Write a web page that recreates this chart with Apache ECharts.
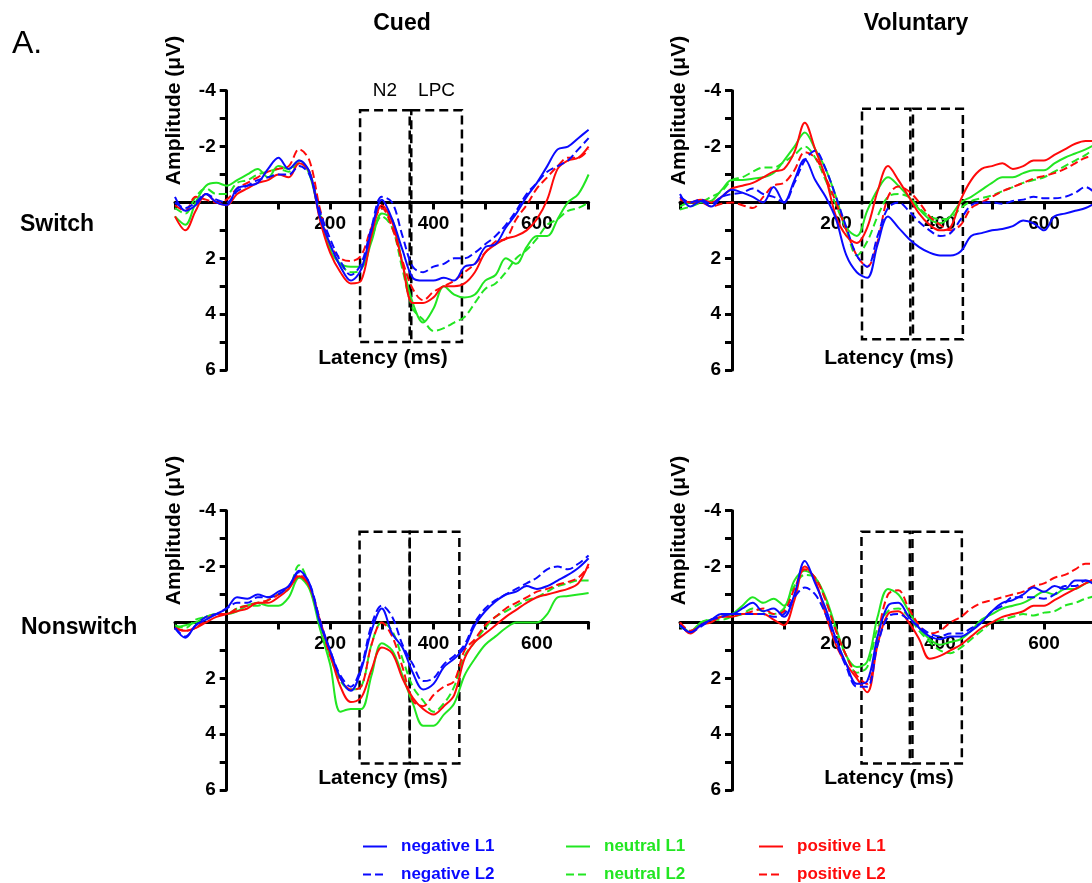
<!DOCTYPE html>
<html>
<head>
<meta charset="utf-8">
<title>ERP waveforms</title>
<script src="https://cdn.jsdelivr.net/npm/echarts@6/dist/echarts.min.js"></script>
<style>
  html, body { margin: 0; padding: 0; background: #fff; }
  #chart { width: 1092px; height: 883px; }
</style>
</head>
<body>
<div id="chart"></div>
<script>
// latency (ms), sampled every 20 ms
const latency = [-100, -80, -60, -40, -20, 0, 20, 40, 60, 80, 100, 120, 140, 160, 180, 200, 220, 240, 260, 280,
  300, 320, 340, 360, 380, 400, 420, 440, 460, 480, 500, 520, 540, 560, 580, 600, 620, 640, 660, 680, 700];

const seriesNames = ['negative L1', 'negative L2', 'neutral L1', 'neutral L2', 'positive L1', 'positive L2'];
const xTickLabels = [200, 400, 600];
const yTickLabels = [-4, -2, 2, 4, 6];
const windowNames = ['N2', 'LPC'];

// amplitude (µV) - Cued / Switch
const cuedSwitchNegL1 = [-0.2, 0.3, 0.1, -0.3, 0.0, 0.1, -0.5, -0.6, -0.7, -1.2, -1.6, -1.2, -1.5, -1.1, 0.5, 1.5, 2.3, 2.8, 2.4, 1.0,
  -0.1, 0.6, 1.7, 2.7, 2.8, 2.8, 2.7, 2.8, 2.3, 2.2, 1.6, 1.5, 0.9, 0.4, -0.2, -0.7, -1.3, -1.9, -2.0, -2.3, -2.6];
const cuedSwitchNegL2 = [0.0, 0.2, 0.0, -0.3, -0.1, 0.0, -0.4, -0.6, -0.8, -0.9, -1.0, -1.0, -1.3, -1.0, 0.3, 1.3, 2.1, 2.6, 2.2, 0.9,
  -0.2, 0.0, 1.2, 2.3, 2.5, 2.3, 2.2, 2.0, 2.0, 1.8, 1.5, 1.2, 0.8, 0.3, -0.3, -0.7, -1.1, -1.3, -1.5, -1.9, -2.3];
const cuedSwitchNeuL1 = [0.5, 0.8, 0.0, -0.6, -0.7, -0.6, -0.8, -1.0, -1.2, -0.9, -1.3, -1.2, -1.5, -1.0, 0.5, 1.7, 2.2, 2.3, 2.3, 1.4,
  0.4, 0.6, 2.2, 3.6, 4.3, 3.8, 3.0, 3.3, 3.4, 3.3, 2.8, 2.6, 2.0, 2.2, 1.6, 1.2, 1.2, 0.6, 0.0, -0.3, -1.0];
const cuedSwitchNeuL2 = [0.2, 0.4, -0.2, -0.5, -0.3, -0.3, -0.7, -0.8, -1.0, -1.1, -1.2, -1.1, -1.4, -1.1, 0.4, 1.6, 2.2, 2.5, 2.4, 1.3,
  0.5, 0.9, 2.4, 3.8, 4.2, 4.6, 4.5, 4.3, 4.1, 3.6, 3.1, 2.9, 2.5, 2.0, 1.7, 1.3, 0.8, 0.6, 0.3, 0.2, 0.0];
const cuedSwitchPosL1 = [0.5, 1.0, 0.3, -0.3, 0.0, 0.1, -0.3, -0.5, -0.7, -0.8, -1.0, -0.9, -1.4, -1.1, 0.6, 1.8, 2.5, 2.9, 2.8, 1.2,
  0.1, 0.7, 2.2, 3.6, 3.6, 3.4, 3.0, 3.0, 2.9, 2.5, 1.8, 1.5, 1.3, 1.2, 1.0, 0.6, -0.1, -1.2, -1.5, -1.6, -2.0];
const cuedSwitchPosL2 = [0.1, 0.3, -0.2, -0.1, 0.0, -0.1, -0.5, -0.7, -0.9, -1.1, -1.2, -1.3, -1.9, -1.5, 0.2, 1.5, 2.0, 2.1, 1.9, 0.9,
  0.2, 0.9, 2.1, 3.1, 3.5, 3.2, 3.0, 2.8, 2.5, 2.2, 1.8, 1.4, 1.3, 0.6, 0.1, -0.5, -0.9, -1.3, -1.6, -1.6, -1.9];

// amplitude (µV) - Voluntary / Switch
const volSwitchNegL1 = [-0.3, 0.15, -0.05, 0.15, -0.2, -0.45, -0.35, -0.2, 0.0, -0.55, 0.0, -0.8, -1.55, -0.8, -0.2, 0.6, 1.9, 2.5, 2.7, 1.5,
  0.5, 0.9, 1.3, 1.6, 1.8, 1.9, 1.9, 1.75, 1.2, 1.1, 1.0, 0.95, 0.85, 0.65, 0.75, 1.0, 0.5, 0.4, 0.3, 0.2, 0.0];
const volSwitchNegL2 = [-0.2, 0.0, -0.1, 0.05, -0.2, -0.3, -0.35, -0.5, -0.3, -0.2, 0.0, -0.7, -1.5, -1.85, -1.2, -0.2, 0.9, 1.9, 2.3, 1.2,
  0.2, 0.0, 0.3, 0.7, 1.0, 1.2, 1.1, 0.6, 0.1, 0.0, 0.0, 0.05, -0.05, -0.1, -0.2, -0.15, -0.15, -0.2, -0.35, -0.55, -0.3];
const volSwitchNeuL1 = [0.15, 0.0, 0.0, -0.05, -0.45, -0.8, -0.8, -0.85, -0.9, -1.05, -1.5, -2.0, -2.5, -1.9, -1.2, -0.2, 0.9, 1.2, 0.3, -0.45,
  -0.9, -0.6, -0.2, 0.25, 0.6, 0.75, 0.5, 0.0, -0.2, -0.45, -0.7, -0.9, -0.9, -1.05, -1.15, -1.15, -1.4, -1.6, -1.75, -1.9, -2.1];
const volSwitchNeuL2 = [0.25, 0.15, 0.0, -0.2, -0.4, -0.8, -0.9, -1.1, -1.25, -1.25, -1.45, -1.7, -2.0, -1.6, -0.8, 0.1, 1.0, 1.9, 1.4, 0.5,
  -0.2, -0.3, -0.2, 0.2, 0.5, 0.6, 0.55, 0.2, -0.05, -0.15, -0.25, -0.4, -0.55, -0.7, -0.8, -0.9, -1.1, -1.3, -1.5, -1.7, -2.0];
const volSwitchPosL1 = [-0.15, 0.0, -0.1, 0.0, -0.2, -0.5, -0.6, -0.7, -0.9, -1.1, -1.2, -1.8, -2.85, -1.9, -0.9, 0.5, 1.2, 1.45, 0.9, -0.4,
  -1.3, -0.8, -0.2, 0.4, 0.8, 1.0, 0.9, -0.1, -0.8, -1.2, -1.3, -1.4, -1.2, -1.3, -1.5, -1.5, -1.7, -1.9, -2.1, -2.2, -2.2];
const volSwitchPosL2 = [-0.1, 0.0, 0.0, 0.15, 0.05, 0.0, 0.1, 0.2, -0.2, -0.6, -0.7, -1.15, -1.8, -1.6, -0.9, 0.0, 1.0, 1.9, 2.3, 1.4,
  -0.2, -0.57, -0.4, 0.0, 0.5, 0.8, 1.0, 0.8, 0.2, 0.0, -0.2, -0.4, -0.55, -0.7, -0.85, -0.95, -1.05, -1.2, -1.4, -1.6, -1.65];

// amplitude (µV) - Cued / Nonswitch
const cuedNonNegL1 = [0.2, 0.55, 0.1, -0.1, -0.3, -0.5, -0.9, -0.85, -1.0, -0.9, -1.1, -1.3, -1.85, -1.4, 0.0, 1.0, 2.0, 2.45, 1.7, 0.3,
  -0.5, 0.4, 0.9, 1.8, 2.4, 2.2, 1.6, 1.3, 0.9, 0.1, -0.4, -0.75, -1.0, -1.1, -1.3, -1.2, -1.3, -1.5, -1.7, -1.95, -2.3];
const cuedNonNegL2 = [0.2, 0.5, 0.1, -0.2, -0.3, -0.5, -0.7, -0.7, -0.9, -0.9, -1.0, -1.3, -1.8, -1.4, -0.1, 1.0, 1.9, 2.3, 1.6, 0.1,
  -0.6, -0.2, 0.8, 1.5, 2.1, 2.0, 1.5, 1.2, 0.8, 0.0, -0.5, -0.8, -1.0, -1.2, -1.4, -1.6, -1.9, -2.0, -1.9, -2.1, -2.4];
const cuedNonNeuL1 = [0.2, 0.1, 0.0, -0.2, -0.3, -0.3, -0.4, -0.6, -0.7, -0.6, -0.6, -0.9, -1.6, -1.2, 0.2, 1.5, 3.2, 3.1, 3.1, 1.9,
  0.75, 1.0, 1.9, 2.9, 3.7, 3.7, 3.3, 2.9, 1.9, 1.3, 0.8, 0.5, 0.2, 0.0, 0.0, 0.0, -0.3, -0.9, -0.95, -1.0, -1.05];
const cuedNonNeuL2 = [0.1, 0.2, -0.1, -0.2, -0.3, -0.3, -0.5, -0.6, -0.6, -0.8, -1.0, -1.2, -2.05, -1.3, 0.0, 1.2, 2.1, 2.4, 2.3, 0.8,
  0.0, 0.3, 1.3, 2.3, 2.8, 3.2, 2.9, 2.3, 1.2, 0.7, 0.2, -0.2, -0.4, -0.6, -0.8, -0.9, -1.1, -1.3, -1.4, -1.5, -1.5];
const cuedNonPosL1 = [0.2, 0.3, 0.2, 0.0, -0.2, -0.3, -0.4, -0.5, -0.7, -0.7, -0.9, -1.2, -1.65, -1.3, -0.1, 1.1, 2.3, 2.85, 2.7, 1.7,
  0.9, 1.1, 2.0, 2.7, 3.1, 3.3, 3.0, 2.6, 1.3, 0.7, 0.4, 0.1, -0.2, -0.45, -0.7, -0.9, -1.0, -1.1, -1.2, -1.4, -2.1];
const cuedNonPosL2 = [0.2, 0.3, 0.2, -0.1, -0.3, -0.3, -0.5, -0.6, -0.7, -0.8, -1.0, -1.3, -1.7, -1.3, -0.1, 1.2, 2.0, 2.4, 2.3, 0.8,
  0.0, 0.5, 1.6, 2.8, 3.0, 2.6, 2.3, 2.1, 1.0, 0.6, 0.1, -0.2, -0.5, -0.7, -0.9, -1.1, -1.2, -1.35, -1.45, -1.6, -2.0];

// amplitude (µV) - Voluntary / Nonswitch
const volNonNegL1 = [0.1, 0.35, 0.1, -0.1, -0.3, -0.3, -0.5, -0.7, -0.4, -0.5, -0.2, -1.0, -2.2, -1.4, -0.5, 0.6, 1.5, 2.2, 2.1, 0.5,
  -0.6, -0.7, -0.2, 0.2, 0.5, 0.6, 0.5, 0.5, 0.3, 0.0, -0.4, -0.7, -0.8, -1.0, -1.25, -1.1, -1.3, -1.2, -1.5, -1.5, -1.3];
const volNonNegL2 = [0.1, 0.35, 0.15, -0.1, -0.2, -0.3, -0.3, -0.3, -0.3, -0.2, -0.3, -0.9, -1.25, -1.0, -0.3, 0.7, 1.6, 2.3, 2.3, 0.8,
  -0.2, -0.3, -0.1, 0.15, 0.4, 0.5, 0.4, 0.4, 0.2, 0.0, -0.4, -0.6, -0.9, -0.9, -0.9, -0.85, -1.0, -1.3, -1.3, -1.5, -1.4];
const volNonNeuL1 = [0.1, 0.35, 0.0, -0.1, -0.2, -0.3, -0.6, -0.9, -0.7, -0.85, -0.6, -1.5, -1.85, -1.6, -0.9, 0.2, 1.2, 1.6, 1.4, -0.2,
  -1.2, -1.0, -0.4, 0.2, 0.6, 0.8, 0.7, 0.6, 0.3, -0.1, -0.3, -0.5, -0.6, -0.7, -0.9, -1.1, -1.0, -1.2, -1.2, -1.4, -1.5];
const volNonNeuL2 = [0.15, 0.3, 0.0, -0.1, -0.1, -0.2, -0.3, -0.5, -0.4, -0.3, -0.5, -1.3, -1.7, -1.6, -0.8, 0.3, 1.2, 1.8, 1.6, 0.2,
  -0.4, -0.5, -0.2, 0.3, 0.7, 1.0, 1.1, 0.9, 0.6, 0.3, 0.0, -0.1, -0.2, -0.3, -0.25, -0.35, -0.4, -0.6, -0.7, -0.85, -0.95];
const volNonPosL1 = [0.0, 0.4, 0.1, 0.0, -0.2, -0.2, -0.3, -0.3, -0.3, -0.1, 0.1, -0.8, -2.0, -1.5, -0.3, 0.8, 1.5, 2.0, 2.5, 0.8,
  -0.3, -0.4, 0.0, 0.6, 1.3, 1.2, 1.0, 0.8, 0.5, 0.2, 0.0, -0.2, -0.3, -0.4, -0.6, -0.6, -0.8, -1.0, -1.2, -1.4, -1.6];
const volNonPosL2 = [0.0, 0.3, 0.1, -0.1, -0.2, -0.3, -0.3, -0.4, -0.5, -0.3, -0.4, -1.2, -1.9, -1.6, -0.8, 0.3, 1.2, 1.9, 2.2, 0.5,
  -1.0, -1.15, -0.5, 0.1, 0.4, 0.3, 0.0, -0.2, -0.5, -0.7, -0.8, -0.9, -1.0, -1.1, -1.3, -1.4, -1.6, -1.7, -1.9, -2.1, -2.1];

// analysis windows (ms) and their vertical extent (µV), as drawn in each panel
const cuedSwitchWindows = [[258, 354], [357, 455]];
const volSwitchWindows = [[250, 343], [348, 444]];
const cuedNonWindows = [[257, 354], [354, 450]];
const volNonWindows = [[249, 342], [347, 442]];
const cuedSwitchWinY = [-3.3, 5.0];
const volSwitchWinY = [-3.35, 4.9];
const cuedNonWinY = [-3.25, 5.05];
const volNonWinY = [-3.25, 5.05];

const X_MIN = -100, X_MAX = 700, Y_MIN = -4, Y_MAX = 6;
const FONT = '"Liberation Sans", Arial, Helvetica, sans-serif';
const BLUE = '#0a0aff';
const GREEN = '#22e622';
const RED = '#ff0a0a';
const seriesColors = [BLUE, BLUE, GREEN, GREEN, RED, RED];
const seriesDash = ['solid', [8, 4], 'solid', [8, 4], 'solid', [8, 4]];
const drawOrder = [3, 2, 5, 4, 1, 0];

const panels = [
  { grid: { left: 175, top: 90.7, width: 413.6, height: 279.3 },
    data: [cuedSwitchNegL1, cuedSwitchNegL2, cuedSwitchNeuL1, cuedSwitchNeuL2, cuedSwitchPosL1, cuedSwitchPosL2],
    windows: cuedSwitchWindows, winY: cuedSwitchWinY, showWinNames: true },
  { grid: { left: 680, top: 90.7, width: 416, height: 279.3 },
    data: [volSwitchNegL1, volSwitchNegL2, volSwitchNeuL1, volSwitchNeuL2, volSwitchPosL1, volSwitchPosL2],
    windows: volSwitchWindows, winY: volSwitchWinY, showWinNames: false },
  { grid: { left: 175, top: 510.7, width: 413.6, height: 279.3 },
    data: [cuedNonNegL1, cuedNonNegL2, cuedNonNeuL1, cuedNonNeuL2, cuedNonPosL1, cuedNonPosL2],
    windows: cuedNonWindows, winY: cuedNonWinY, showWinNames: false },
  { grid: { left: 680, top: 510.7, width: 416, height: 279.3 },
    data: [volNonNegL1, volNonNegL2, volNonNeuL1, volNonNeuL2, volNonPosL1, volNonPosL2],
    windows: volNonWindows, winY: volNonWinY, showWinNames: false }
];

const axisLineStyle = { color: '#000', width: 3 };
const tickFont = { fontSize: 19, fontWeight: 'bold', color: '#000', fontFamily: FONT };

const grids = [], xAxes = [], yAxes = [], series = [];
panels.forEach((p, gi) => {
  const g = p.grid;
  grids.push(Object.assign({ outerBoundsMode: 'none', containLabel: false }, g));
  // the axes cross at (0 ms, 0 µV): shift each axis from the grid edge onto the zero line
  const xOffset = -g.height * (Y_MAX - 0) / (Y_MAX - Y_MIN);
  const yOffset = -g.width * (0 - X_MIN) / (X_MAX - X_MIN);
  xAxes.push({
    type: 'value', gridIndex: gi, min: X_MIN, max: X_MAX, interval: 100, offset: xOffset,
    axisLine: { show: true, onZero: false, lineStyle: axisLineStyle },
    axisTick: { show: true, length: 7, lineStyle: { color: '#000', width: 3 } },
    axisLabel: Object.assign({ show: true, margin: 12, formatter: v => xTickLabels.includes(v) ? String(v) : '' }, tickFont),
    splitLine: { show: false }
  });
  yAxes.push({
    type: 'value', gridIndex: gi, min: Y_MIN, max: Y_MAX, interval: 1, inverse: true, offset: yOffset,
    axisLine: { show: true, onZero: false, lineStyle: axisLineStyle },
    axisTick: { show: true, length: 7, lineStyle: { color: '#000', width: 3 } },
    axisLabel: Object.assign({ show: true, margin: 11, formatter: v => yTickLabels.includes(v) ? String(v) : '' }, tickFont),
    splitLine: { show: false }
  });
  drawOrder.forEach((si, k) => {
    const s = {
      name: seriesNames[si], type: 'line', xAxisIndex: gi, yAxisIndex: gi,
      data: latency.map((t, j) => [t, p.data[si][j]]),
      symbol: 'none', showSymbol: false, smooth: 0.35, animation: false,
      color: seriesColors[si],
      lineStyle: { color: seriesColors[si], width: 2, type: seriesDash[si] }
    };
    if (k === 0) {
      s.markArea = {
        silent: true,
        itemStyle: { color: 'rgba(0,0,0,0)', borderColor: '#000', borderWidth: 2.5, borderType: [9, 5] },
        label: { show: p.showWinNames, position: 'top', distance: 9, formatter: '{b}',
          fontSize: 19, color: '#000', fontFamily: FONT },
        data: p.windows.map((w, wi) => [
          { name: windowNames[wi], xAxis: w[0], yAxis: p.winY[0] },
          { xAxis: w[1], yAxis: p.winY[1] }
        ])
      };
    }
    series.push(s);
  });
});

function label(text, x, y, size, opts) {
  return Object.assign({
    type: 'text', x: x, y: y, silent: true, z: 10,
    style: { text: text, font: (opts && opts.weight || 'bold') + ' ' + size + 'px ' + FONT,
      fill: '#000', align: (opts && opts.align) || 'center', verticalAlign: 'middle' }
  }, opts && opts.rotation ? { rotation: opts.rotation } : {});
}

const graphics = [
  label('A.', 12, 44, 32, { weight: 'normal', align: 'left' }),
  label('Cued', 402, 24, 23),
  label('Voluntary', 916, 24, 23),
  label('Switch', 20, 225, 23, { align: 'left' }),
  label('Nonswitch', 21, 628, 23, { align: 'left' })
];
[[174, 110.5], [679, 110.5], [174, 530.5], [679, 530.5]].forEach(c => {
  graphics.push(label('Amplitude (\u03bcV)', c[0], c[1], 21, { rotation: Math.PI / 2 }));
});
[[383, 358], [889, 358], [383, 778], [889, 778]].forEach(c => {
  graphics.push(label('Latency (ms)', c[0], c[1], 21));
});

// legend: three colour columns, L1 on the first row and L2 on the second
const legendLefts = [362, 565, 758];
const legendTops = [838, 866];
const legends = seriesNames.map((name, i) => ({
  left: legendLefts[Math.floor(i / 2)], top: legendTops[i % 2], padding: 0,
  itemWidth: 24, itemHeight: 14, selectedMode: false, data: [name],
  itemStyle: { opacity: 0 },
  textStyle: { color: seriesColors[i], fontSize: 17, fontWeight: 'bold', fontFamily: FONT, padding: [0, 0, 0, 9] }
}));

const chart = echarts.init(document.getElementById('chart'), null, { renderer: 'canvas' });
chart.setOption({
  backgroundColor: '#fff',
  animation: false,
  grid: grids,
  xAxis: xAxes,
  yAxis: yAxes,
  legend: legends,
  graphic: graphics,
  series: series
});
</script>
</body>
</html>
